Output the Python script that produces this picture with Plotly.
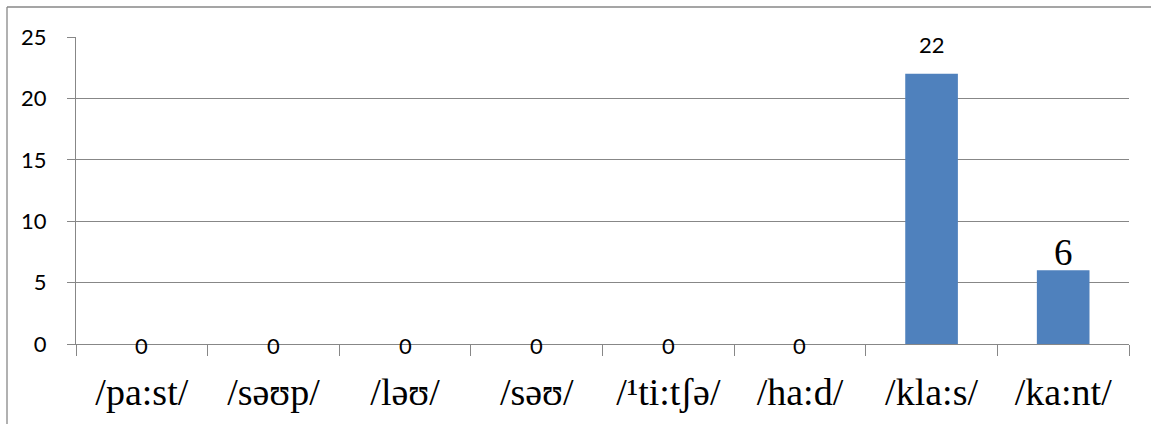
import plotly.graph_objects as go

categories = ["/pa:st/", "/səʊp/", "/ləʊ/", "/səʊ/", "/¹ti:tʃə/", "/ha:d/", "/kla:s/", "/ka:nt/"]
values = [0, 0, 0, 0, 0, 0, 22, 6]
y_ticks = [0, 5, 10, 15, 20, 25]

GRID = "#878787"
BAR = "#4F81BD"
SANS = "Lato"
SERIF = "Liberation Serif"

fig = go.Figure(go.Bar(
    x=categories, y=values, marker=dict(color=BAR, line=dict(width=0)),
    hoverinfo="skip",
))

for cat, v in zip(categories, values):
    if v == 0:
        fig.add_annotation(x=cat, y=v, text=str(v), showarrow=False, yanchor="middle",
                           yshift=-1, font=dict(family=SANS, size=22, color="black"))
    elif v >= 10:
        fig.add_annotation(x=cat, y=v, text=str(v), showarrow=False, yanchor="bottom",
                           yshift=14, font=dict(family=SANS, size=22, color="black"))
    else:
        fig.add_annotation(x=cat, y=v, text=str(v), showarrow=False, yanchor="bottom",
                           yshift=-5, font=dict(family=SERIF, size=37, color="black"))

# outer chart border (top and left visible)
fig.add_shape(type="line", xref="paper", yref="paper", x0=(7-76)/1053, x1=1.2,
              y0=1+(37-7)/307, y1=1+(37-7)/307, line=dict(color=GRID, width=1.3))
fig.add_shape(type="line", xref="paper", yref="paper", x0=(7-76)/1053, x1=(7-76)/1053,
              y0=1+(37-7)/307, y1=-0.5, line=dict(color=GRID, width=1.3))

fig.update_layout(
    width=1151, height=424,
    margin=dict(l=76, r=22, t=37, b=80),
    paper_bgcolor="white", plot_bgcolor="white",
    showlegend=False, bargap=0.6,
    xaxis=dict(
        type="category", tickson="boundaries", ticks="outside", ticklen=11,
        tickcolor=GRID, tickwidth=1.3, showline=True, linecolor=GRID, linewidth=1.3,
        showgrid=False, tickfont=dict(family=SERIF, size=38, color="black"),
        ticklabelstandoff=14,
    ),
    yaxis=dict(
        range=[0, 25], tickvals=y_ticks, ticks="outside", ticklen=8,
        tickcolor=GRID, tickwidth=1.3, showline=True, linecolor=GRID, linewidth=1.3,
        showgrid=True, gridcolor=GRID, gridwidth=1.3, zeroline=False,
        tickfont=dict(family=SANS, size=22, color="black"),
        ticklabelstandoff=16,
    ),
)

fig.write_html("out.html")
